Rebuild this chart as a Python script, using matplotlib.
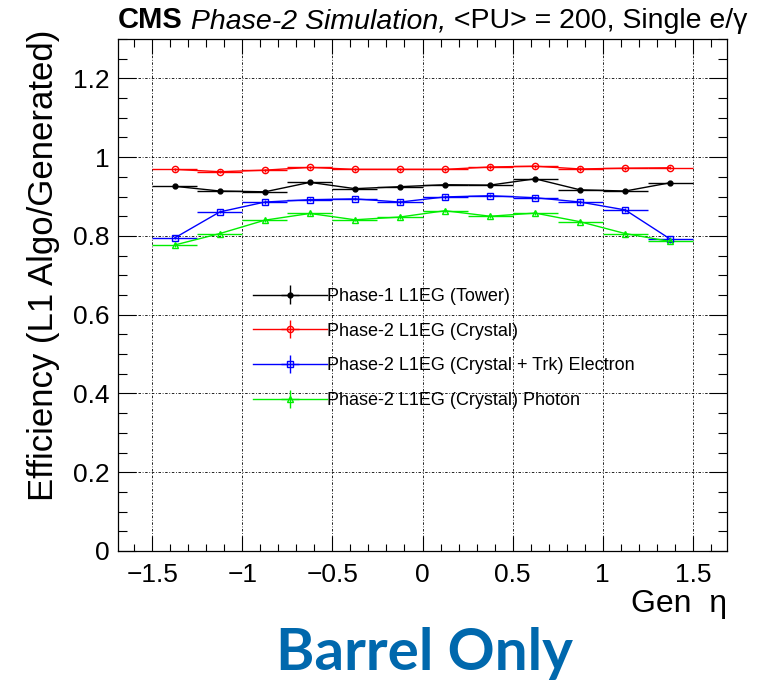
import numpy as np
import matplotlib
matplotlib.use("Agg")
import matplotlib.pyplot as plt
from matplotlib.ticker import MultipleLocator

plt.rcParams['font.family'] = ['Liberation Sans', 'DejaVu Sans']

# bin centres in generated eta (bin width 0.25)
eta = [-1.375, -1.125, -0.875, -0.625, -0.375, -0.125,
       0.125, 0.375, 0.625, 0.875, 1.125, 1.375]
eta_halfwidth = 0.125

eff_tower = [0.926, 0.914, 0.912, 0.936, 0.920, 0.925,
             0.930, 0.929, 0.945, 0.917, 0.914, 0.935]
eff_crystal = [0.969, 0.963, 0.967, 0.974, 0.969, 0.969,
               0.969, 0.975, 0.977, 0.970, 0.972, 0.973]
eff_electron = [0.795, 0.861, 0.886, 0.892, 0.894, 0.886,
                0.899, 0.902, 0.897, 0.886, 0.866, 0.792]
eff_photon = [0.777, 0.806, 0.840, 0.857, 0.841, 0.848,
              0.864, 0.850, 0.858, 0.836, 0.806, 0.786]

labels = ["Phase-1 L1EG (Tower)",
          "Phase-2 L1EG (Crystal)",
          "Phase-2 L1EG (Crystal + Trk) Electron",
          "Phase-2 L1EG (Crystal) Photon"]

fig = plt.figure(figsize=(7.69, 6.8), dpi=100)
ax = fig.add_axes([118/769, 1-551/680, 609/769, 512/680])

series = [
    (eff_tower, 'black', 'o', 'black', 3.5),
    (eff_crystal, '#ff0000', 'o', 'none', 4.5),
    (eff_electron, '#0000ff', 's', 'none', 4.5),
    (eff_photon, '#00ee00', '^', 'none', 4.5),
]
for (vals, col, mk, fc, ms), lab in zip(series, labels):
    ax.errorbar(eta, vals, xerr=eta_halfwidth, yerr=0.004, color=col, marker=mk,
                markerfacecolor=fc, markeredgecolor=col, markersize=ms,
                markeredgewidth=1.0, lw=1.0, elinewidth=1.0, capsize=0,
                label=lab)

ax.set_xlim(-1.69, 1.69)
ax.set_ylim(0, 1.3)
ax.xaxis.set_minor_locator(MultipleLocator(0.1))
ax.yaxis.set_minor_locator(MultipleLocator(0.05))
ax.set_yticks([0, 0.2, 0.4, 0.6, 0.8, 1.0, 1.2])
ax.set_yticklabels(['0', '0.2', '0.4', '0.6', '0.8', '1', '1.2'])
ax.set_xticks([-1.5, -1, -0.5, 0, 0.5, 1, 1.5])
ax.set_xticklabels(['\u22121.5', '\u22121', '\u22120.5', '0', '0.5', '1', '1.5'])

ax.tick_params(which='both', direction='in', top=True, right=True,
               labelsize=19, width=0.8, color='black')
ax.tick_params(axis='x', which='major', length=11, pad=9)
ax.tick_params(axis='x', which='minor', length=5.4)
ax.tick_params(axis='y', which='major', length=13, pad=6)
ax.tick_params(axis='y', which='minor', length=6.5)
for s in ax.spines.values():
    s.set_linewidth(0.9)

ax.grid(True, which='major', color='black', lw=0.6, linestyle=(0, (3, 2, 1, 2)))
ax.set_axisbelow(True)

leg = ax.legend(loc='upper left', bbox_to_anchor=(0.2217, 0.514), frameon=False,
                fontsize=13, handlelength=4.1, handletextpad=0.0,
                labelspacing=0.98, borderpad=0, borderaxespad=0)

# axis titles
fig.text(44/769, 1-30/680, "Efficiency (L1 Algo/Generated)", rotation=90,
         ha='center', va='top', fontsize=25)
fig.text(727/769, 1-604/680, "Gen  \u03b7", ha='right', va='center', fontsize=23)

# header: CMS (bold) + italic + regular
fig.canvas.draw()
r = fig.canvas.get_renderer()
x0 = 118/769
yb = 1-28/680
t1 = fig.text(x0, yb, "CMS", fontsize=21, fontweight='bold', va='baseline')
w1 = t1.get_window_extent(r).width / fig.bbox.width
t2 = fig.text(x0 + w1, yb, " Phase-2 Simulation,", fontsize=20.5, style='italic',
              va='baseline')
w2 = t2.get_window_extent(r).width / fig.bbox.width
fig.text(x0 + w1 + w2, yb, " <PU> = 200, Single e/\u03b3", fontsize=20.5,
         va='baseline')

fig.text(424/769, 1-653/680, "Barrel Only", fontsize=42, fontweight='bold',
         family=['Lato', 'DejaVu Sans'], color='#0068ad', ha='center', va='center')

fig.savefig("out.png", dpi=100)
